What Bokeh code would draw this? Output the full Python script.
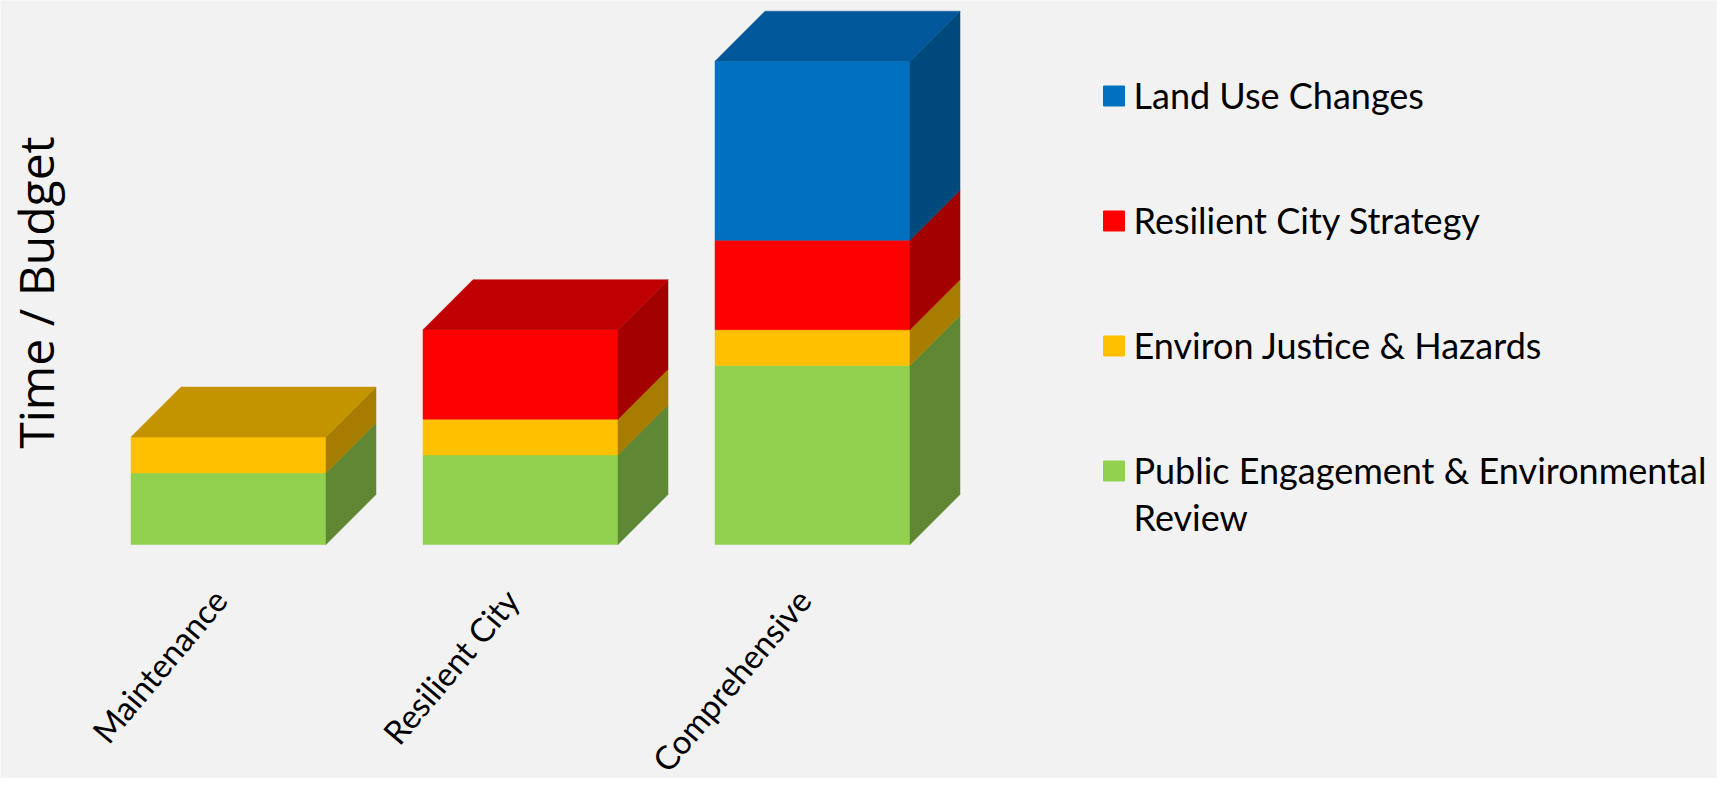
import math
from bokeh.plotting import figure
from bokeh.models import ColumnDataSource, Range1d
from bokeh.embed import file_html
from bokeh.resources import INLINE
from bokeh.core.properties import value

# ---------------- data ----------------
categories = ["Maintenance", "Resilient City", "Comprehensive"]
public_engagement = [2.0, 2.5, 5.0]
environ_justice = [1.0, 1.0, 1.0]
resilient_strategy = [0.0, 2.5, 2.5]
land_use = [0.0, 0.0, 5.0]
series = [public_engagement, environ_justice, resilient_strategy, land_use]
legend_labels = ["Land Use Changes", "Resilient City Strategy",
                 "Environ Justice & Hazards",
                 "Public Engagement & Environmental\nReview"]
axis_title = "Time / Budget"

# ---------------- style ----------------
front_colors = ["#92D050", "#FFC000", "#FF0000", "#0070C0"]
side_colors = ["#5F8834", "#A67D00", "#A30000", "#00497D"]
top_colors = ["#70A03E", "#C49400", "#C00000", "#00589A"]
BG = "#F2F2F2"

W, H = 1717, 778
PXU_X, PXU_Y = 292.0, 35.8       # px per data unit
X0_PX = 228                      # canvas x of first category centre
Y0_PX = 544                      # canvas y of value 0
x_start = -X0_PX / PXU_X
x_end = x_start + W / PXU_X
y_start = -(H - Y0_PX) / PXU_Y
y_end = y_start + H / PXU_Y
BAR_W = 195 / PXU_X
DEPTH_X = 50 / PXU_X
DEPTH_Y = 50 / PXU_Y


def cx(px):
    return x_start + px / PXU_X


def cy(py):
    return y_end - py / PXU_Y


p = figure(width=W, height=H, output_backend="svg", toolbar_location=None,
           x_range=Range1d(x_start, x_end), y_range=Range1d(y_start, y_end),
           min_border=0)
p.background_fill_color = BG
p.border_fill_color = BG
p.outline_line_color = None
p.grid.visible = False
p.axis.visible = False

# ---------------- 3D stacked bars ----------------
front = dict(left=[], right=[], bottom=[], top=[], color=[])
side = dict(xs=[], ys=[], color=[])
topf = dict(xs=[], ys=[], color=[])
for i, cat in enumerate(categories):
    xl, xr = i - BAR_W / 2, i + BAR_W / 2
    base = 0.0
    last = None
    for s, vals in enumerate(series):
        v = vals[i]
        if v <= 0:
            continue
        b, t = base, base + v
        front["left"].append(xl); front["right"].append(xr)
        front["bottom"].append(b); front["top"].append(t)
        front["color"].append(front_colors[s])
        side["xs"].append([xr, xr + DEPTH_X, xr + DEPTH_X, xr])
        side["ys"].append([b, b + DEPTH_Y, t + DEPTH_Y, t])
        side["color"].append(side_colors[s])
        base = t
        last = s
    topf["xs"].append([xl, xr, xr + DEPTH_X, xl + DEPTH_X])
    topf["ys"].append([base, base, base + DEPTH_Y, base + DEPTH_Y])
    topf["color"].append(top_colors[last])

p.quad(left="left", right="right", bottom="bottom", top="top", color="color",
       line_color="color", line_width=0.5, source=ColumnDataSource(front))
p.patches(xs="xs", ys="ys", fill_color="color", line_color="color", line_width=0.5,
          source=ColumnDataSource(side))
p.patches(xs="xs", ys="ys", fill_color="color", line_color="color", line_width=0.5,
          source=ColumnDataSource(topf))

# ---------------- category labels (x axis) ----------------
cat_src = ColumnDataSource(dict(x=list(range(len(categories))),
                                y=[0.0] * len(categories), text=categories))
p.text(x="x", y="y", text="text", source=cat_src, angle=math.radians(50),
       x_offset=-9, y_offset=49, text_align="right", text_baseline="middle",
       text_font=value("Lato"), text_font_size="33px", text_color="#000000")

# ---------------- y axis title ----------------
p.text(x=[cx(35)], y=[cy(292)], text=[axis_title], angle=math.pi / 2,
       text_align="center", text_baseline="middle",
       text_font=value("Open Sans"), text_font_size="48px", text_color="#000000")

# ---------------- legend ----------------
LEG_SQ_X = 1113.5
LEG_TEXT_X = 1133
LEG_TOP = 95.5
LEG_STEP = 125.0
leg_cols = [front_colors[3], front_colors[2], front_colors[1], front_colors[0]]
sq = dict(x=[], y=[], color=[])
tx = dict(x=[], y=[], text=[])
for k, lab in enumerate(legend_labels):
    yc = LEG_TOP + k * LEG_STEP
    sq["x"].append(cx(LEG_SQ_X)); sq["y"].append(cy(yc)); sq["color"].append(leg_cols[k])
    for j, line in enumerate(lab.split("\n")):
        tx["x"].append(cx(LEG_TEXT_X))
        tx["y"].append(cy(yc - 1.5 + j * 47))
        tx["text"].append(line)
p.rect(x="x", y="y", width=21, height=20, width_units="screen", height_units="screen",
       color="color", source=ColumnDataSource(sq))
p.text(x="x", y="y", text="text", text_font=value("Lato"), text_font_size="36px",
       text_color="#000000", text_baseline="middle", text_align="left",
       source=ColumnDataSource(tx))

open("out.html", "w").write(file_html(p, INLINE))
